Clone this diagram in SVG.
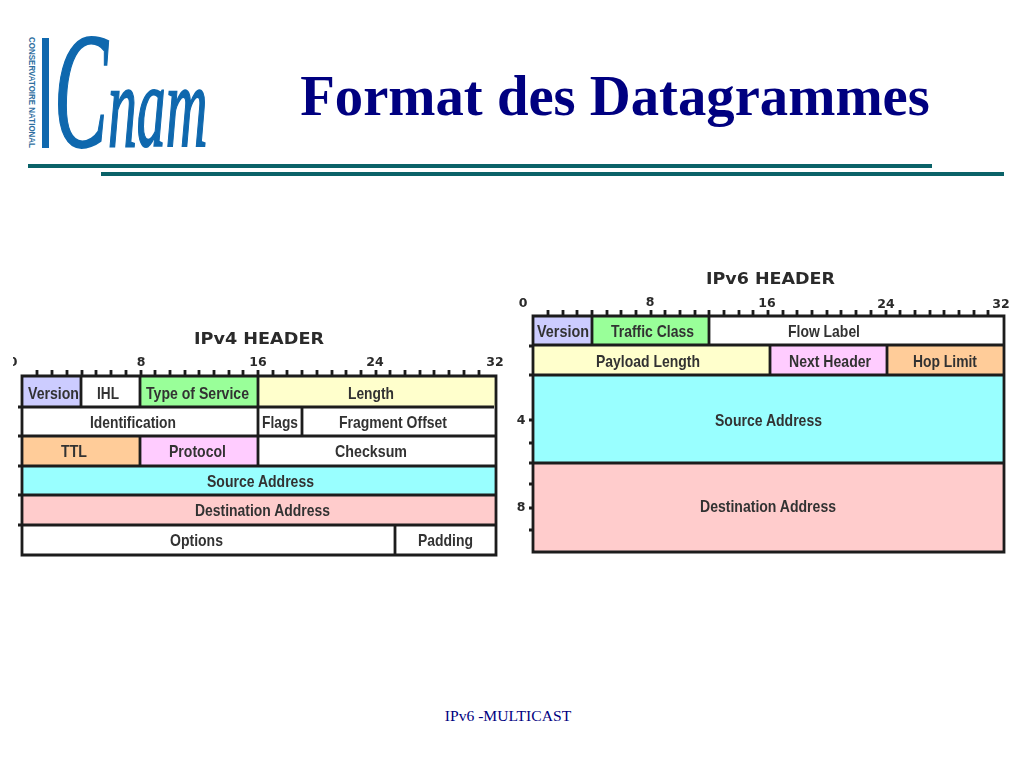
<svg xmlns="http://www.w3.org/2000/svg" width="1024" height="768" viewBox="0 0 1024 768">
<defs>
<filter id="soft" x="-2%" y="-2%" width="104%" height="104%"><feGaussianBlur stdDeviation="0.4"/></filter>
<clipPath id="clip0"><rect x="13" y="350" width="20" height="24"/></clipPath>
</defs>
<style>
text{font-family:"Liberation Sans",Arial,sans-serif}
.l{font-size:17px;font-weight:700;fill:#333;text-anchor:middle}
.h{font-family:"DejaVu Sans",sans-serif;font-size:16.5px;font-weight:700;fill:#2a2a2a;text-anchor:middle}
.n{font-family:"DejaVu Sans",sans-serif;font-size:12.5px;font-weight:700;fill:#2a2a2a;text-anchor:middle}
.b{stroke:#1c1c1c;stroke-width:2.8;fill:none}
.t{stroke:#1c1c1c;stroke-width:2.8;fill:none}
.s{font-family:"Liberation Serif",serif;font-style:italic;fill:#0f68ae;stroke:#0f68ae}
</style>
<rect width="1024" height="768" fill="#fff"/>
<g id="logo">
<text transform="translate(29 37) rotate(90)" font-size="8.6" font-weight="700" fill="#2f6f9f" textLength="111" lengthAdjust="spacingAndGlyphs">CONSERVATOIRE NATIONAL</text>
<rect x="42" y="38" width="7" height="110" fill="#0f68ae"/>
<text class="s" stroke-width="2" transform="translate(54 146) scale(.49 1)" font-size="118"><tspan font-size="165">C</tspan><tspan>nam</tspan></text>
</g>
<g id="title">
<text x="615" y="115" font-size="56.7" font-weight="700" fill="#000080" text-anchor="middle" style="font-family:'Liberation Serif',serif">Format des Datagrammes</text>
<rect x="28" y="164" width="904" height="4" fill="#0a6268"/>
<rect x="101" y="172" width="903" height="4" fill="#0a6268"/>
</g>
<g id="ipv4" filter="url(#soft)">
<text class="h" x="259" y="344" textLength="130" lengthAdjust="spacingAndGlyphs">IPv4 HEADER</text>
<g id="ipv4-scale">
<text class="n" x="13" y="366" clip-path="url(#clip0)">0</text><text class="n" x="141" y="366">8</text><text class="n" x="258" y="366">16</text><text class="n" x="375" y="366">24</text><text class="n" x="495" y="366">32</text>
<path class="t" d="M37 370v8M52 370v8M67 370v8M82 370v8M96 370v8M111 370v8M126 370v8M141 370v8M155 370v8M170 370v8M185 370v8M199 370v8M214 370v8M229 370v8M243 370v8M258 370v8M273 370v8M287 370v8M302 370v8M317 370v8M332 370v8M346 370v8M361 370v8M376 370v8M390 370v8M405 370v8M420 370v8M434 370v8M449 370v8M464 370v8M479 370v8"/>
</g>
<g id="v4-version"><rect x="22" y="376" width="59" height="31" fill="#ccccff"/><text class="l" x="53.500" y="399" textLength="51" lengthAdjust="spacingAndGlyphs">Version</text></g>
<g id="v4-ihl"><rect x="81" y="376" width="59" height="31" fill="#fff"/><text class="l" x="108" y="399" textLength="22" lengthAdjust="spacingAndGlyphs">IHL</text></g>
<g id="v4-tos"><rect x="140" y="376" width="118" height="31" fill="#99ff99"/><text class="l" x="197.500" y="399" textLength="103" lengthAdjust="spacingAndGlyphs">Type of Service</text></g>
<g id="v4-length"><rect x="258" y="376" width="238" height="31" fill="#ffffcc"/><text class="l" x="371" y="399" textLength="46" lengthAdjust="spacingAndGlyphs">Length</text></g>
<g id="v4-id"><rect x="22" y="407" width="236" height="29" fill="#fff"/><text class="l" x="133" y="428" textLength="86" lengthAdjust="spacingAndGlyphs">Identification</text></g>
<g id="v4-flags"><rect x="258" y="407" width="44" height="29" fill="#fff"/><text class="l" x="280" y="428" textLength="36" lengthAdjust="spacingAndGlyphs">Flags</text></g>
<g id="v4-frag"><rect x="302" y="407" width="194" height="29" fill="#fff"/><text class="l" x="393" y="428" textLength="108" lengthAdjust="spacingAndGlyphs">Fragment Offset</text></g>
<g id="v4-ttl"><rect x="22" y="436" width="118" height="30" fill="#ffcc99"/><text class="l" x="74" y="457" textLength="26" lengthAdjust="spacingAndGlyphs">TTL</text></g>
<g id="v4-proto"><rect x="140" y="436" width="118" height="30" fill="#ffccff"/><text class="l" x="197.500" y="457" textLength="57" lengthAdjust="spacingAndGlyphs">Protocol</text></g>
<g id="v4-check"><rect x="258" y="436" width="238" height="30" fill="#fff"/><text class="l" x="371" y="457" textLength="72" lengthAdjust="spacingAndGlyphs">Checksum</text></g>
<g id="v4-src"><rect x="22" y="466" width="474" height="29" fill="#99ffff"/><text class="l" x="260.500" y="487" textLength="107" lengthAdjust="spacingAndGlyphs">Source Address</text></g>
<g id="v4-dst"><rect x="22" y="495" width="474" height="30" fill="#ffcccc"/><text class="l" x="262.500" y="516" textLength="135" lengthAdjust="spacingAndGlyphs">Destination Address</text></g>
<g id="v4-opt"><rect x="22" y="525" width="373" height="30" fill="#fff"/><text class="l" x="196.500" y="546" textLength="53" lengthAdjust="spacingAndGlyphs">Options</text></g>
<g id="v4-pad"><rect x="395" y="525" width="101" height="30" fill="#fff"/><text class="l" x="445.500" y="546" textLength="55" lengthAdjust="spacingAndGlyphs">Padding</text></g>
<path class="b" d="M22 376H496V555H22ZM18 407H494M18 436H496M18 466H496M18 495H496M18 525H496M81 376V407M140 376V407M258 376V466M302 407V436M140 436V466M395 525V555"/>
</g>
<g id="ipv6" filter="url(#soft)">
<text class="h" x="770.500" y="284" textLength="129" lengthAdjust="spacingAndGlyphs">IPv6 HEADER</text>
<g id="ipv6-scale">
<text class="n" x="523" y="307">0</text><text class="n" x="650" y="306">8</text><text class="n" x="767" y="307">16</text><text class="n" x="886" y="308">24</text><text class="n" x="1001" y="308">32</text>
<text class="n" x="521" y="424">4</text><text class="n" x="521" y="511">8</text>
<path class="t" d="M548 310v8M563 310v8M577 310v8M592 310v8M607 310v8M621 310v8M636 310v8M651 310v8M665 310v8M680 310v8M695 310v8M709 310v8M724 310v8M739 310v8M753 310v8M768 310v8M783 310v8M797 310v8M812 310v8M827 310v8M841 310v8M856 310v8M871 310v8M886 310v8M900 310v8M915 310v8M930 310v8M944 310v8M959 310v8M974 310v8M988 310v8"/>
<path class="t" d="M529 346h8M529 375h8M529 420h8M529 443h8M529 463h8M529 484h8M529 508h8M529 530h8"/>
</g>
<g id="v6-version"><rect x="533" y="316" width="59" height="29" fill="#ccccff"/><text class="l" x="563" y="337" textLength="52" lengthAdjust="spacingAndGlyphs">Version</text></g>
<g id="v6-class"><rect x="592" y="316" width="117" height="29" fill="#99ff99"/><text class="l" x="652.500" y="337" textLength="83" lengthAdjust="spacingAndGlyphs">Traffic Class</text></g>
<g id="v6-flow"><rect x="709" y="316" width="295" height="29" fill="#fff"/><text class="l" x="824" y="337" textLength="72" lengthAdjust="spacingAndGlyphs">Flow Label</text></g>
<g id="v6-payload"><rect x="533" y="345" width="237" height="30" fill="#ffffcc"/><text class="l" x="648" y="367" textLength="104" lengthAdjust="spacingAndGlyphs">Payload Length</text></g>
<g id="v6-next"><rect x="770" y="345" width="117" height="30" fill="#ffccff"/><text class="l" x="830" y="367" textLength="82" lengthAdjust="spacingAndGlyphs">Next Header</text></g>
<g id="v6-hop"><rect x="887" y="345" width="117" height="30" fill="#ffcc99"/><text class="l" x="945" y="367" textLength="64" lengthAdjust="spacingAndGlyphs">Hop Limit</text></g>
<g id="v6-src"><rect x="533" y="375" width="471" height="88" fill="#99ffff"/><text class="l" x="768.500" y="426" textLength="107" lengthAdjust="spacingAndGlyphs">Source Address</text></g>
<g id="v6-dst"><rect x="533" y="463" width="471" height="89" fill="#ffcccc"/><text class="l" x="768" y="512" textLength="136" lengthAdjust="spacingAndGlyphs">Destination Address</text></g>
<path class="b" d="M533 316H1004V552H533ZM533 345H1004M533 375H1004M533 463H1004M592 316V345M709 316V345M770 345V375M887 345V375"/>
</g>
<text id="footer" x="508" y="721" font-size="15.600" fill="#000080" text-anchor="middle" style="font-family:'Liberation Serif',serif">IPv6 -MULTICAST</text>
</svg>
